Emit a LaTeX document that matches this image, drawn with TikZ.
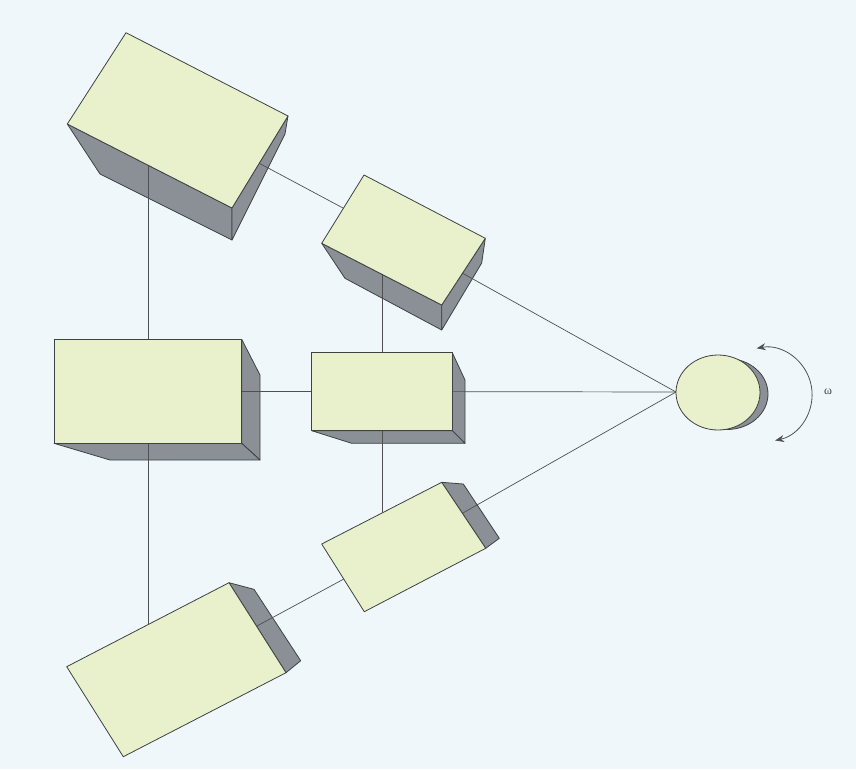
\documentclass[tikz,border=0pt]{standalone}
\usepackage{fontspec}
\newfontfamily\greekserif{Liberation Serif}
\usetikzlibrary{arrows.meta,calc}

\definecolor{paper}{RGB}{240,247,251}
\definecolor{facefill}{RGB}{233,240,204}
\definecolor{sidefill}{RGB}{138,144,149}
\definecolor{edgecol}{RGB}{62,66,68}
\definecolor{linkcol}{RGB}{78,80,82}

\tikzset{
  face/.style={fill=facefill, draw=edgecol, line width=0.8pt, line join=round},
  side/.style={fill=sidefill, draw=edgecol, line width=0.8pt, line join=round},
  link/.style={draw=linkcol, line width=0.7pt},
  spin/.style={draw=linkcol, line width=0.8pt,
    {Stealth[length=9pt,width=7pt]}-{Stealth[length=9pt,width=7pt]}},
}

\begin{document}
\begin{tikzpicture}[x=1pt,y=-1pt]
\fill[paper] (0,0) rectangle (856,769);
\useasboundingbox (0,0) rectangle (856,769);

% ---- block 1 (upper left, tilted) ----
\coordinate (a1T) at (126,32.7);
\coordinate (a1R) at (288,116);
\coordinate (a1B) at (232,208);
\coordinate (a1L) at (67.3,124);
\coordinate (a1Lb) at (100,174);
\coordinate (a1Bb) at (232,240);
\coordinate (a1Rb) at (285,134);
\coordinate (c1) at ($(a1T)!0.5!(a1B)$);

% ---- block 2 (upper middle, tilted) ----
\coordinate (a2T) at (364,175);
\coordinate (a2R) at (485.3,238.3);
\coordinate (a2B) at (441.7,305);
\coordinate (a2L) at (321.7,243.3);
\coordinate (a2Lb) at (345,278.3);
\coordinate (a2Bb) at (441.7,330);
\coordinate (a2Rb) at (481.7,263);
\coordinate (c2) at ($(a2T)!0.5!(a2B)$);

% ---- block 3 (middle left, upright) ----
\coordinate (a3TL) at (54,339.3);
\coordinate (a3TR) at (241.7,339.3);
\coordinate (a3BR) at (241.7,443.3);
\coordinate (a3BL) at (54,443.3);
\coordinate (a3TRb) at (260,375);
\coordinate (a3BRb) at (260,460);
\coordinate (a3BLb) at (110,460);
\coordinate (c3) at (147.85,391.5);

% ---- block 4 (centre, upright) ----
\coordinate (a4TL) at (311.7,352.7);
\coordinate (a4TR) at (452.3,352.7);
\coordinate (a4BR) at (452.3,430.7);
\coordinate (a4BL) at (311.7,430.7);
\coordinate (a4TRb) at (465,380);
\coordinate (a4BRb) at (465,443.3);
\coordinate (a4BLb) at (351.7,443.3);
\coordinate (c4) at (382,391.5);

% ---- block 5 (lower middle, tilted) ----
\coordinate (a5L) at (321.7,544);
\coordinate (a5T) at (441.7,482.3);
\coordinate (a5R) at (485.7,548.3);
\coordinate (a5B) at (364.3,611.7);
\coordinate (a5Tb) at (463.3,484);
\coordinate (a5Rb) at (499.3,538.3);
\coordinate (c5) at ($(a5T)!0.5!(a5B)$);

% ---- block 6 (lower left, tilted) ----
\coordinate (a6L) at (66.7,666.7);
\coordinate (a6T) at (229,582.7);
\coordinate (a6R) at (286,672.7);
\coordinate (a6B) at (123.3,756.7);
\coordinate (a6Tb) at (254,589.3);
\coordinate (a6Rb) at (300.7,660.7);
\coordinate (c6) at ($(a6T)!0.5!(a6B)$);

% ---- disc ----
\coordinate (disc) at (718,392.5);
\coordinate (discb) at (727,394);
\coordinate (hub) at (676,392);

% ---- rotation arrow ----
\coordinate (spA) at (756.7,348.3);

% side faces (drawn first)
\path[side] (a1L) -- (a1B) -- (a1Bb) -- (a1Lb) -- cycle;
\path[side] (a1B) -- (a1R) -- (a1Rb) -- (a1Bb) -- cycle;
\path[side] (a2L) -- (a2B) -- (a2Bb) -- (a2Lb) -- cycle;
\path[side] (a2B) -- (a2R) -- (a2Rb) -- (a2Bb) -- cycle;
\path[side] (a3TR) -- (a3TRb) -- (a3BRb) -- (a3BR) -- cycle;
\path[side] (a3BR) -- (a3BRb) -- (a3BLb) -- (a3BL) -- cycle;
\path[side] (a4TR) -- (a4TRb) -- (a4BRb) -- (a4BR) -- cycle;
\path[side] (a4BR) -- (a4BRb) -- (a4BLb) -- (a4BL) -- cycle;
\path[side] (a5T) -- (a5Tb) -- (a5Rb) -- (a5R) -- cycle;
\path[side] (a6T) -- (a6Tb) -- (a6Rb) -- (a6R) -- cycle;
\path[side] (discb) ellipse [x radius=41pt, y radius=35.5pt];

% connecting lines
\path[link] (c1) -- (c2);
\path[link] (c3 |- c1) -- (c3 |- c6);
\path[link] (c3) -- (c4);
\path[link] (c4 |- c2) -- (c4 |- c5);
\path[link] (c6) -- (c5);
\path[link] (c2) -- (hub);
\path[link] (c4) -- (hub);
\path[link] (c5) -- (hub);

% front faces
\path[face] (a1T) -- (a1R) -- (a1B) -- (a1L) -- cycle;
\path[face] (a2T) -- (a2R) -- (a2B) -- (a2L) -- cycle;
\path[face] (a3TL) -- (a3TR) -- (a3BR) -- (a3BL) -- cycle;
\path[face] (a4TL) -- (a4TR) -- (a4BR) -- (a4BL) -- cycle;
\path[face] (a5L) -- (a5T) -- (a5R) -- (a5B) -- cycle;
\path[face] (a6L) -- (a6T) -- (a6R) -- (a6B) -- cycle;
\path[face] (disc) ellipse [x radius=42pt, y radius=37.5pt];

% rotation
\draw[spin] (spA) arc[start angle=100.3, end angle=-77.7, radius=47pt];
\node[inner sep=0pt, text=edgecol] (omega) at (828,392) {\greekserif\fontsize{12}{12}\selectfont ω};
\end{tikzpicture}
\end{document}
